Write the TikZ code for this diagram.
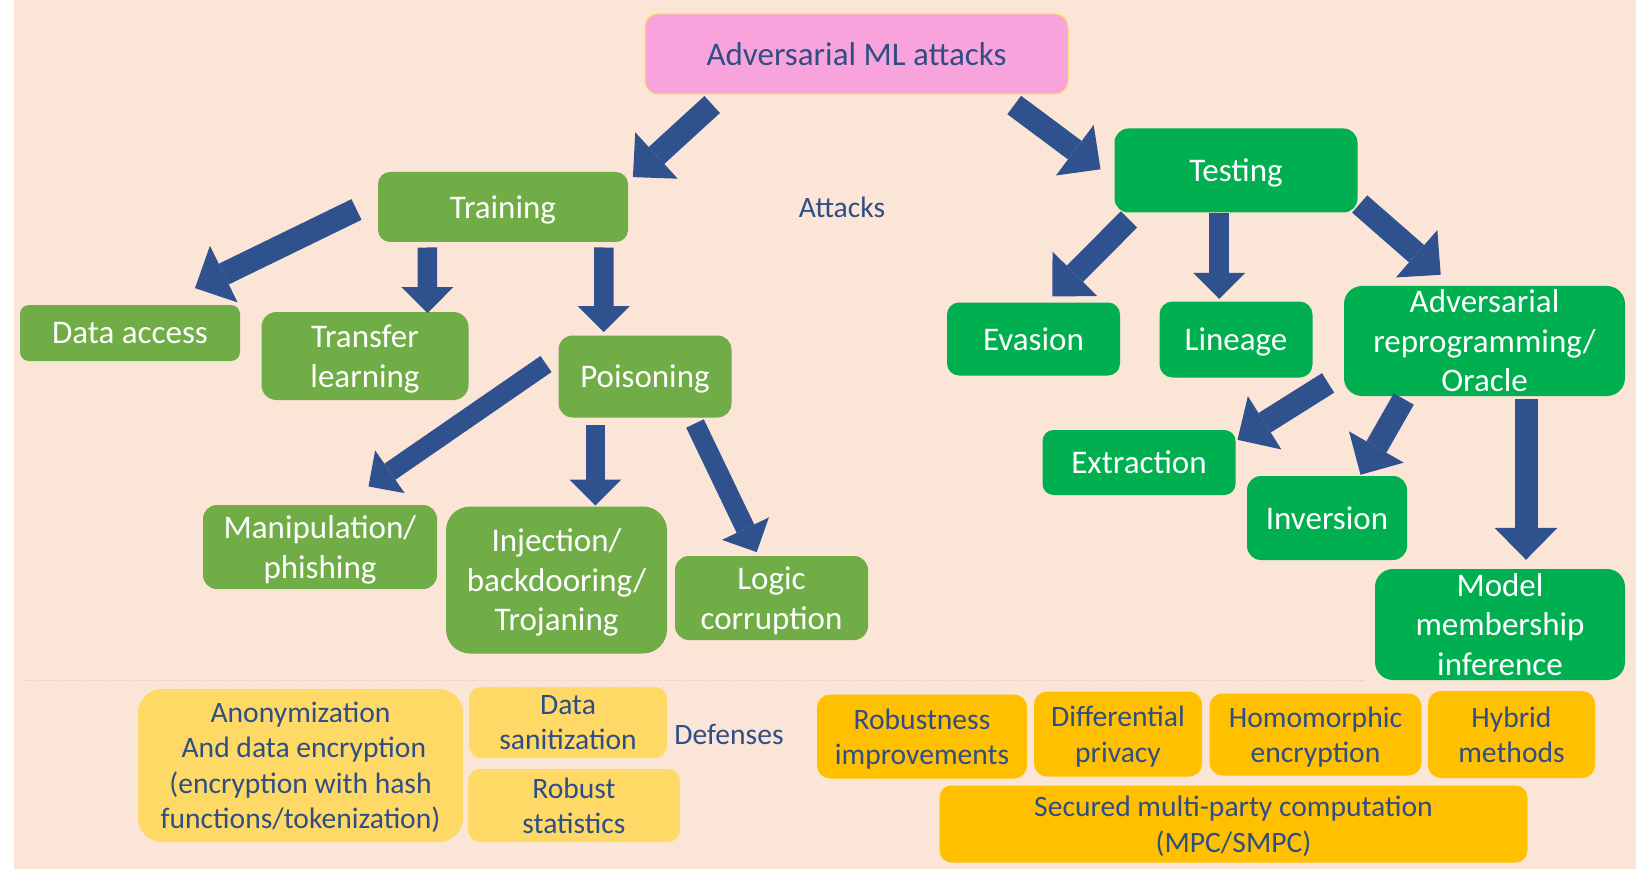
\documentclass[tikz,border=0pt]{standalone}
\usepackage{fontspec}
\setmainfont{Carlito}
\usetikzlibrary{arrows.meta}
\definecolor{Peach}{HTML}{FBE5D6}
\definecolor{Rose}{HTML}{F9A3DC}
\definecolor{RoseEdge}{HTML}{FFD966}
\definecolor{LGreen}{HTML}{70AD47}
\definecolor{DGreen}{HTML}{00B050}
\definecolor{LYellow}{HTML}{FFD966}
\definecolor{Amber}{HTML}{FFC000}
\definecolor{ArrBlue}{HTML}{2F528F}
\definecolor{TxtBlue}{HTML}{2F4E85}
\definecolor{SepPink}{HTML}{F4B6C2}

\begin{document}
\begin{tikzpicture}[x=1pt,y=-1pt,
		box/.style={rectangle,rounded corners=13pt,inner sep=0pt,align=center,text depth=0pt,
			font=\fontsize{33}{39.5}\selectfont},
		lgreen/.style={box,fill=LGreen,text=white},
		dgreen/.style={box,fill=DGreen,text=white},
		dfl/.style={box,fill=LYellow,text=TxtBlue,font=\fontsize{29.6}{35.5}\selectfont},
		dfo/.style={dfl,fill=Amber},
		lbl/.style={text=TxtBlue,font=\fontsize{29.6}{35.5}\selectfont},
		bigarr/.style={draw=ArrBlue,line width=23pt,-{Triangle[width=63pt,length=32pt,line width=0pt]}},
		smallarr/.style={draw=ArrBlue,line width=19.5pt,-{Triangle[width=52pt,length=26pt,line width=0pt]}}]
	\useasboundingbox (0,0) rectangle (1650,869);
	\fill[white] (0,0) rectangle (1650,869);
	\fill[Peach] (14,0) rectangle (1636,869);
	%\draw[help lines] (0,0) grid[step=50] (1650,869);
	\draw[SepPink,dotted,line width=1pt] (22,680) -- (1365,680);

	% attacks
	\node[box,fill=Rose,draw=RoseEdge,line width=1pt,text=TxtBlue,minimum width=423pt,minimum height=80pt] (ml) at (856.5,54) {Adversarial ML attacks};
	\node[lgreen,minimum width=250pt,minimum height=70pt,rounded corners=12pt] (train) at (503,207) {Training};
	\node[dgreen,minimum width=243pt,minimum height=84pt,rounded corners=14pt] (test) at (1236,170.5) {Testing};
	\node[lbl] (atk) at (842,207) {Attacks};
	\node[lgreen,minimum width=220pt,minimum height=56pt,rounded corners=9pt] (dacc) at (130,333) {Data access};
	\node[lgreen,minimum width=207pt,minimum height=88pt,rounded corners=15pt] (transf) at (365,356) {Transfer\\learning};
	\node[lgreen,minimum width=173pt,minimum height=82pt,rounded corners=14pt] (poison) at (645,376.5) {Poisoning};
	\node[lgreen,minimum width=234pt,minimum height=84pt,rounded corners=14pt] (manip) at (320,547) {Manipulation/\\phishing};
	\node[lgreen,minimum width=221pt,minimum height=147pt,rounded corners=24pt] (inject) at (556.5,580) {Injection/\\backdooring/\\Trojaning};
	\node[lgreen,minimum width=193pt,minimum height=84pt,rounded corners=14pt] (logic) at (771.5,598) {Logic\\corruption};
	\node[dgreen,minimum width=173pt,minimum height=73pt,rounded corners=12pt] (evas) at (1033.5,339) {Evasion};
	\node[dgreen,minimum width=153pt,minimum height=76pt,rounded corners=13pt] (lineage) at (1236,339.5) {Lineage};
	\node[dgreen,minimum width=281pt,minimum height=110pt,rounded corners=18pt] (reprog) at (1484.5,341) {Adversarial\\reprogramming/\\Oracle};
	\node[dgreen,minimum width=193pt,minimum height=65pt,rounded corners=11pt] (extr) at (1139,462.5) {Extraction};
	\node[dgreen,minimum width=160pt,minimum height=84pt,rounded corners=14pt] (inver) at (1327,518) {Inversion};
	\node[dgreen,minimum width=250pt,minimum height=111pt,rounded corners=18pt] (member) at (1500,624.5) {Model\\membership\\inference};

	% defenses
	\node[dfl,minimum width=325pt,minimum height=153pt,rounded corners=24pt] (anon) at (300.5,765.5) {Anonymization\\~And data encryption\\(encryption with hash\\functions/tokenization)};
	\node[dfl,minimum width=198pt,minimum height=71pt,rounded corners=12pt] (sanit) at (568,722.5) {Data\\sanitization};
	\node[dfl,minimum width=212pt,minimum height=73pt,rounded corners=12pt] (robst) at (574,805.5) {Robust\\statistics};
	\node[lbl] (dfn) at (729,734.5) {Defenses};
	\node[dfo,minimum width=210pt,minimum height=84pt] (robimp) at (922,736.5) {Robustness\\improvements};
	\node[dfo,minimum width=168pt,minimum height=85pt] (diffp) at (1118,734) {Differential\\privacy};
	\node[dfo,minimum width=212pt,minimum height=82pt] (homo) at (1315.5,734.5) {Homomorphic\\encryption};
	\node[dfo,minimum width=167pt,minimum height=87pt] (hybr) at (1511.5,734.5) {Hybrid\\methods};
	\node[dfo,minimum width=588pt,minimum height=77pt,rounded corners=12pt] (smpc) at (1233.5,824) {Secured multi-party computation\\(MPC/SMPC)};

	\path ([shift={(67.7,10)}]ml.south west) edge[bigarr] ([shift={(4.7,5.3)}]train.north east)
		([shift={(-54.3,10.5)}]ml.south east) edge[bigarr] ([shift={(-13.8,-1.2)}]test.west)
		([shift={(-21.3,2.5)}]train.west) edge[bigarr] ([shift={(65,-16.7)}]dacc.north)
		([shift={(49.5,5.3)}]train.south west) edge[smallarr] ([shift={(62.5,1.3)}]transf.north)
		([shift={(-24.3,5.3)}]train.south east) edge[smallarr] ([shift={(-41.3,-3.2)}]poison.north)
		([shift={(-12.3,-12.5)}]poison.west) edge[smallarr] ([shift={(-68.7,-18.3)}]manip.north east)
		([shift={(-49.7,7.5)}]poison.south) edge[smallarr] ([shift={(38.8,-0.8)}]inject.north)
		([shift={(50,5.8)}]poison.south) edge[smallarr] ([shift={(-14.8,-3.7)}]logic.north)
		([shift={(14.7,6.7)}]test.south west) edge[bigarr] ([shift={(18.8,-5.8)}]evas.north)
		([shift={(-16.8,0.8)}]test.south) edge[smallarr] ([shift={(-16.8,-2.5)}]lineage.north)
		([shift={(2,-8.7)}]test.south east) edge[bigarr] ([shift={(-43.8,-11)}]reprog.north)
		([shift={(-15.7,-13.3)}]reprog.south west) edge[bigarr] ([shift={(1.8,10)}]extr.north east)
		([shift={(60,2.8)}]reprog.south west) edge[bigarr] ([shift={(33.5,-1)}]inver.north)
		([shift={(41.5,3)}]reprog.south) edge[bigarr] ([shift={(26,-9)}]member.north);
\end{tikzpicture}
\end{document}
